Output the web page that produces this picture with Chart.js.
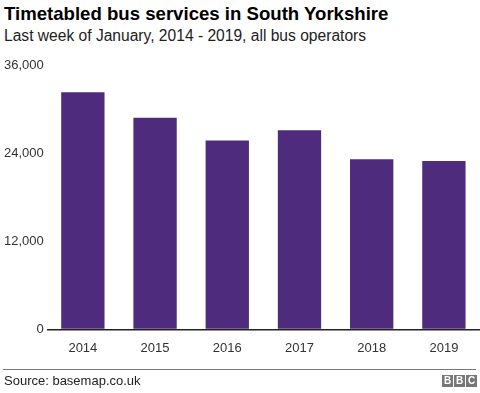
<!DOCTYPE html>
<html>
<head>
<meta charset="utf-8">
<script src="https://cdn.jsdelivr.net/npm/chart.js@4"></script>
<style>
  body { margin: 0; width: 480px; height: 393px; background: #fff; font-family: "Liberation Sans", Arial, sans-serif; position: relative; overflow: hidden; }
  .title { position: absolute; left: 4px; top: 3px; font-size: 18.6px; font-weight: bold; color: #000; white-space: nowrap; }
  .subtitle { position: absolute; left: 4px; top: 27px; font-size: 15.6px; color: #222; white-space: nowrap; }
  .chart-box { position: absolute; left: 0; top: 55px; width: 480px; height: 323px; }
  .rule { position: absolute; left: 3px; top: 369px; width: 473px; height: 1px; background: #777; }
  .source { position: absolute; left: 4px; top: 373px; font-size: 13px; color: #222; }
  .bbc { position: absolute; left: 442px; top: 375px; display: flex; gap: 1px; }
  .bbc span { width: 11px; height: 12px; background: #777; color: #fff; font-size: 10px; font-weight: bold; line-height: 12px; text-align: center; }
</style>
</head>
<body>
<div class="title">Timetabled bus services in South Yorkshire</div>
<div class="subtitle">Last week of January, 2014 - 2019, all bus operators</div>
<div class="chart-box"><canvas id="busChart"></canvas></div>
<div class="rule"></div>
<div class="source">Source: basemap.co.uk</div>
<div class="bbc"><span>B</span><span>B</span><span>C</span></div>

<script>
// Données
const years = ['2014', '2015', '2016', '2017', '2018', '2019'];
const services = [32400, 28900, 25800, 27200, 23250, 23000];
const yTicks = [0, 12000, 24000, 36000];

document.addEventListener('DOMContentLoaded', function() {
    const ctx = document.getElementById('busChart');
    new Chart(ctx, {
        type: 'bar',
        data: {
            labels: years,
            datasets: [{
                data: services,
                backgroundColor: '#4e2b7c',
                categoryPercentage: 1,
                barPercentage: 0.6
            }]
        },
        options: {
            responsive: true,
            maintainAspectRatio: false,
            animation: false,
            layout: { padding: { top: 8, right: 0, left: 1, bottom: 19 } },
            plugins: {
                legend: { display: false },
                tooltip: { enabled: false }
            },
            scales: {
                x: {
                    grid: { display: false },
                    border: { display: false },
                    ticks: { color: '#333', font: { size: 13, family: 'Liberation Sans' }, padding: 3 }
                },
                y: {
                    min: 0,
                    max: yTicks[yTicks.length - 1],
                    afterBuildTicks: function(axis) {
                        axis.ticks = yTicks.map(v => ({ value: v }));
                    },
                    border: { display: false },
                    grid: {
                        drawTicks: false,
                        lineWidth: 1.5,
                        color: function(c) {
                            return c.tick && c.tick.value === 0 ? '#222' : 'rgba(0,0,0,0)';
                        }
                    },
                    ticks: {
                        color: '#333',
                        padding: 3,
                        font: { size: 13, family: 'Liberation Sans' },
                        callback: function(value) {
                            return value.toLocaleString('en-US');
                        }
                    }
                }
            }
        }
    });
});
</script>
</body>
</html>
